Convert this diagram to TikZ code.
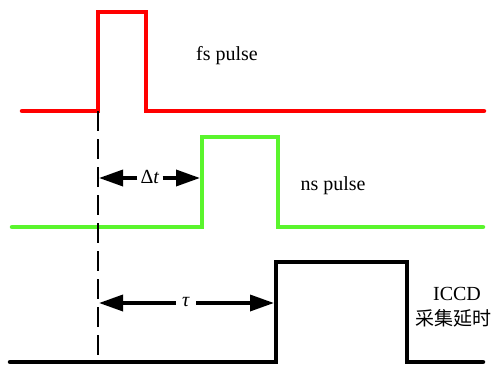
\documentclass[tikz,border=0pt]{standalone}
\usepackage{fontspec}
\setmainfont{Liberation Serif}
\newfontfamily\cjk{Noto Sans CJK SC}
\usetikzlibrary{arrows.meta}
\definecolor{pred}{RGB}{255,0,0}
\definecolor{pgreen}{RGB}{90,245,45}
\begin{document}
\begin{tikzpicture}[x=1pt,y=-1pt,
  wave/.style={line width=4.5pt,line join=miter,line cap=round},
  lbl/.style={font=\fontsize{20}{22}\selectfont,inner sep=0pt},
  dim/.style={line width=3.5pt,-{Triangle[length=24pt,width=16pt]}},
  guide/.style={line width=1.8pt,dash pattern=on 20pt off 8pt}]
\useasboundingbox (0,0) rectangle (499,367);
% fs pulse
\draw[wave,pred] (22,111) -- (98,111) -- (98,12) -- (146,12) -- (146,111) -- (484,111);
% ns pulse
\draw[wave,pgreen] (12,227) -- (202,227) -- (202,137) -- (278,137) -- (278,227) -- (483,227);
% ICCD gate
\draw[wave,black] (10,362) -- (276,362) -- (276,262) -- (407,262) -- (407,362) -- (483,362);
% reference dashed line
\coordinate (d0) at (98,111);
\coordinate (d1) at (98,356);
\draw[guide] (d0) -- (d1);
% labels
\node[lbl] (fs) at (227,56) {fs pulse};
\node[lbl] (ns) at (333,186) {ns pulse};
\node[lbl] (iccd) at (457,294) {ICCD};
\node[font=\cjk\fontsize{19}{22}\selectfont,inner sep=0pt] (cn) at (453,318) {采集延时};
% delta t
\coordinate (a0) at (99,178);
\coordinate (a1) at (200,178);
\node[lbl,inner xsep=3pt] (dt) at (150,177) {Δ\textit{t}};
\draw[dim] (dt.west|-a0) -- (a0);
\draw[dim] (dt.east|-a1) -- (a1);
% tau
\coordinate (b0) at (99,303);
\coordinate (b1) at (274,303);
\node[lbl,inner xsep=6pt] (tau) at (186,302) {\textit{τ}};
\draw[dim] (tau.west|-b0) -- (b0);
\draw[dim] (tau.east|-b1) -- (b1);
\end{tikzpicture}
\end{document}
